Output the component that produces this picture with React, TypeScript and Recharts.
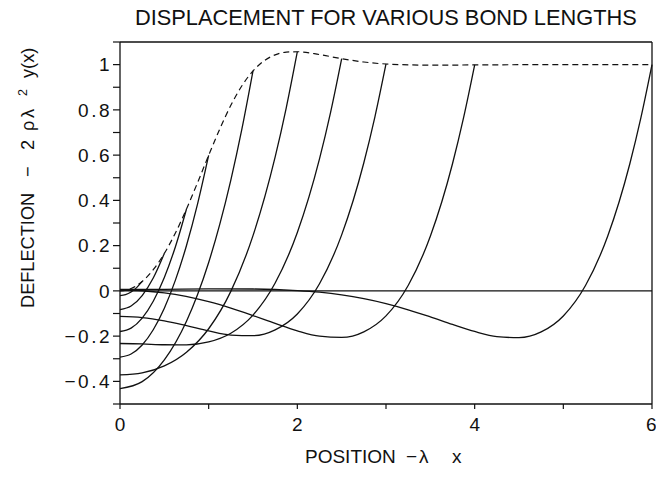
import React from 'react';
import { LineChart, Line, XAxis, YAxis, ReferenceLine } from 'recharts';

const FONT = "'Liberation Sans', Arial, Helvetica, sans-serif";
const INK = '#111';

const TITLE = 'DISPLACEMENT FOR VARIOUS BOND LENGTHS';

// axis ticks
const xTicks = [0, 1, 2, 3, 4, 5, 6];
const xLabeled = [0, 2, 4, 6];
const yTicks = [-0.5, -0.4, -0.3, -0.2, -0.1, 0, 0.1, 0.2, 0.3, 0.4, 0.5, 0.6, 0.7, 0.8, 0.9, 1, 1.1];
const yLabeled = [-0.4, -0.2, 0, 0.2, 0.4, 0.6, 0.8, 1];

// bond lengths (half-length, lambda*L)
const bondLengths = [0.25, 0.5, 0.75, 1, 1.5, 2, 2.5, 3, 4, 6];

// curves
const xL025 = [0, 0.0625, 0.125, 0.1875, 0.25];
const yL025 = [-0.0208, -0.0169, -0.0052, 0.0143, 0.0417];

const xL05 = [0, 0.125, 0.25, 0.375, 0.5];
const yL05 = [-0.0826, -0.0671, -0.0207, 0.0568, 0.1655];

const xL075 = [0, 0.125, 0.25, 0.375, 0.5, 0.625, 0.75];
const yL075 = [-0.1796, -0.1648, -0.1202, -0.0456, 0.0594, 0.1952, 0.362];

const xL1 = [0, 0.125, 0.25, 0.375, 0.5, 0.625, 0.75, 0.875, 1];
const yL1 = [-0.2925, -0.2792, -0.2391, -0.1717, -0.0765, 0.0474, 0.2007, 0.3845, 0.5991];

const xL15 = [0, 0.25, 0.5, 0.75, 0.875, 1, 1.125, 1.25, 1.375, 1.5];
const yL15 = [-0.4323, -0.4013, -0.305, -0.134, -0.0161, 0.1257, 0.2938, 0.4899, 0.7157, 0.9722];

const xL2 = [0, 0.25, 0.5, 0.75, 1, 1.25, 1.5, 1.75, 1.875, 2];
const yL2 = [-0.3716, -0.3624, -0.3318, -0.2713, -0.1674, -0.0022, 0.2442, 0.592, 0.8092, 1.0571];

const xL25 = [0, 0.25, 0.5, 0.75, 1, 1.25, 1.5, 1.75, 2, 2.25, 2.375, 2.5];
const yL25 = [-0.2326, -0.2344, -0.2382, -0.2383, -0.2257, -0.1873, -0.107, 0.0346, 0.2581, 0.5834, 0.7892, 1.0262];

const xL3 = [0, 0.25, 0.5, 0.75, 1, 1.25, 1.5, 1.75, 2, 2.25, 2.5, 2.75, 2.875, 3];
const yL3 = [-0.1126, -0.1178, -0.1325, -0.1539, -0.1773, -0.1953, -0.1979, -0.1722, -0.102, 0.0313, 0.2476, 0.5664, 0.7693, 1.0028];

const xL4 = [0, 0.25, 0.5, 1, 1.25, 1.5, 1.75, 2, 2.25, 2.5, 2.75, 3, 3.25, 3.5, 3.75, 3.875, 4];
const yL4 = [0.0038, 0.0005, -0.0092, -0.048, -0.0763, -0.1091, -0.1438, -0.1763, -0.2002, -0.2059, -0.1812, -0.1107, 0.0236, 0.2415, 0.5619, 0.7656, 0.9987];

const xL6 = [0, 0.5, 1, 1.5, 2, 2.25, 2.5, 2.75, 3, 3.25, 3.5, 3.75, 4, 4.25, 4.5, 4.75, 5, 5.25, 5.5, 5.75, 5.875, 6];
const yL6 = [0.0061, 0.0069, 0.0085, 0.0082, 0.0015, -0.0059, -0.0177, -0.0344, -0.0563, -0.0835, -0.1149, -0.1482, -0.1794, -0.202, -0.2068, -0.1815, -0.1108, 0.0236, 0.2415, 0.5619, 0.7656, 1.0];

// envelope of end displacements (dashed)
const envX = [0, 0.125, 0.25, 0.375, 0.5, 0.625, 0.75, 0.875, 1, 1.125, 1.25, 1.375, 1.5, 1.625, 1.75, 1.875, 2, 2.25, 2.5, 2.75, 3, 3.5, 4, 5, 6];
const envY = [0, 0.0104, 0.0417, 0.0935, 0.1655, 0.256, 0.362, 0.4786, 0.5991, 0.7155, 0.82, 0.9066, 0.9722, 1.017, 1.0433, 1.0553, 1.057, 1.0444, 1.0262, 1.0116, 1.0028, 0.9976, 0.9987, 1.0, 1.0];

const toPts = (xs: number[], ys: number[]) => xs.map((x, i) => ({ x, y: ys[i] }));

const curves = [
  toPts(xL025, yL025),
  toPts(xL05, yL05),
  toPts(xL075, yL075),
  toPts(xL1, yL1),
  toPts(xL15, yL15),
  toPts(xL2, yL2),
  toPts(xL25, yL25),
  toPts(xL3, yL3),
  toPts(xL4, yL4),
  toPts(xL6, yL6),
];
const envelope = toPts(envX, envY);

const fmtX = (v: number) => (xLabeled.includes(v) ? String(v) : '');
const fmtY = (v: number) => {
  const hit = yLabeled.find((t) => Math.abs(t - v) < 1e-9);
  if (hit === undefined) return '';
  if (hit === 0) return '0';
  if (hit === 1) return '1';
  return hit < 0 ? '\u2212' + Math.abs(hit).toFixed(1) : hit.toFixed(1);
};

const TitleText = () => (
  <text x={135} y={25} fontSize={21.8} fontFamily={FONT} fill={INK}>
    {TITLE}
  </text>
);

const XLabelText = () => (
  <text y={463} fontSize={19} fontFamily={FONT} fill={INK}>
    <tspan x={305}>POSITION</tspan>
    <tspan x={406}>{'\u2212'}</tspan>
    <tspan x={419}>{'\u03bb'}</tspan>
    <tspan x={452}>x</tspan>
  </text>
);

const YLabelText = () => (
  <text transform="translate(34,308) rotate(-90)" fontSize={18.2} fontFamily={FONT} fill={INK}>
    <tspan x={0} y={0}>DEFLECTION</tspan>
    <tspan x={131} y={0}>{'\u2212'}</tspan>
    <tspan x={158} y={0}>2</tspan>
    <tspan x={177} y={0} letterSpacing={3}>{'\u03c1\u03bb'}</tspan>
    <tspan x={212} y={-7} fontSize={12.5}>2</tspan>
    <tspan x={230} y={0}>y(x)</tspan>
  </text>
);

export default function App() {
  return (
    <div style={{ position: 'absolute', left: 0, top: 0, background: '#fff' }}>
      <LineChart width={656} height={479} margin={{ top: 42, right: 4, bottom: 0, left: 0 }}>
        <XAxis
          type="number"
          dataKey="x"
          domain={[0, 6]}
          ticks={xTicks}
          tickFormatter={fmtX}
          height={75}
          tickSize={5}
          tickMargin={9}
          axisLine={{ stroke: INK, strokeWidth: 1.3 }}
          tickLine={{ stroke: INK, strokeWidth: 1.2 }}
          tick={{ fontSize: 19, fill: INK, fontFamily: FONT }}
          label={<XLabelText />}
        />
        <YAxis
          type="number"
          domain={[-0.5, 1.1]}
          ticks={yTicks}
          tickFormatter={fmtY}
          width={120}
          tickSize={7}
          tickMargin={1}
          interval={0}
          axisLine={{ stroke: INK, strokeWidth: 1.3 }}
          tickLine={{ stroke: INK, strokeWidth: 1.2 }}
          tick={{ fontSize: 19, fill: INK, fontFamily: FONT, letterSpacing: 2.5 }}
          label={<YLabelText />}
        />
        <ReferenceLine y={1.1} stroke={INK} strokeWidth={1.3} label={<TitleText />} />
        <ReferenceLine x={6} stroke={INK} strokeWidth={1.3} />
        <ReferenceLine y={0} stroke={INK} strokeWidth={1.1} />
        {curves.map((d, i) => (
          <Line
            key={'L' + bondLengths[i]}
            data={d}
            dataKey="y"
            type="monotone"
            stroke={INK}
            strokeWidth={1.3}
            dot={false}
            activeDot={false}
            isAnimationActive={false}
          />
        ))}
        <Line
          data={envelope}
          dataKey="y"
          type="monotone"
          stroke={INK}
          strokeWidth={1.2}
          strokeDasharray="6 4"
          dot={false}
          activeDot={false}
          isAnimationActive={false}
        />
      </LineChart>
    </div>
  );
}
